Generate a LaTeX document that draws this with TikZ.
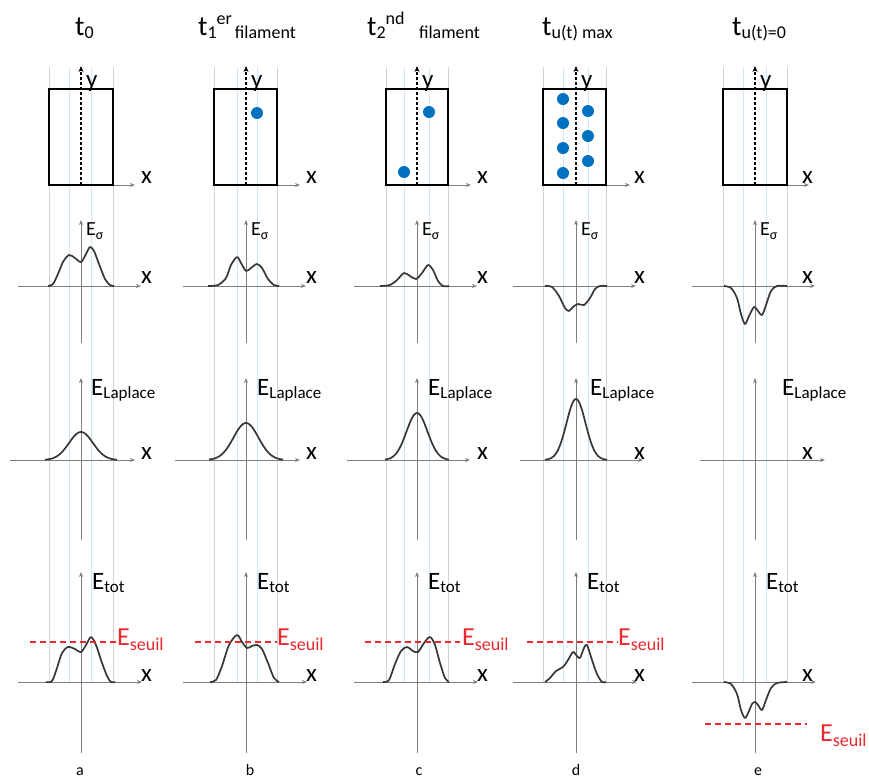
\documentclass[tikz,border=0pt]{standalone}
\usepackage{fontspec}
\setmainfont{Carlito}
\usetikzlibrary{arrows.meta}
\definecolor{guidegray}{RGB}{212,212,212}
\definecolor{guideblue}{RGB}{208,230,243}
\definecolor{axisgray}{RGB}{125,125,125}
\definecolor{curvegray}{RGB}{55,55,55}
\definecolor{dotblue}{RGB}{0,112,192}
\definecolor{seuilred}{RGB}{235,40,45}
\newcommand\lo[3][0.12em]{\raisebox{-#1}{\fontsize{#2}{#2}\selectfont #3}}
\newcommand\hi[2]{\raisebox{0.38em}{\fontsize{#1}{#1}\selectfont #2}}
\tikzset{
  guide/.style={guidegray, line width=0.8pt},
  guideb/.style={guideblue, line width=0.8pt},
  ax/.style={axisgray, line width=0.9pt, -{Stealth[length=5pt,width=4pt]}},
  yax/.style={black, line width=1.2pt, dash pattern=on 3pt off 2pt, -{Stealth[length=6pt,width=5pt]}},
  boxst/.style={black, line width=1.3pt},
  curve/.style={curvegray, line width=1.7pt, line join=round},
  seuil/.style={seuilred, line width=1.4pt, dash pattern=on 6pt off 4pt},
  dot/.style={fill=dotblue},
  txt/.style={inner sep=0pt, anchor=base west, font=\fontsize{25}{25}\selectfont},
  ttl/.style={inner sep=0pt, anchor=base west, font=\fontsize{28}{28}\selectfont},
  esig/.style={inner sep=0pt, anchor=base west, font=\fontsize{20}{20}\selectfont},
  eseuil/.style={inner sep=0pt, anchor=base west, text=seuilred, font=\fontsize{26}{26}\selectfont},
  sublab/.style={inner sep=0pt, anchor=base, font=\fontsize{16}{16}\selectfont},
}
% #1 axis, #2 L, #3 l1, #4 l2, #5 R, #6 row3 start, #7 row3 end, #8 name, #9 x label left
\newcommand\Col[9]{%
  \draw[guide] (#2,67) -- (#2,683);
  \draw[guide] (#5,67) -- (#5,683);
  \draw[guideb] (#3,67) -- (#3,683);
  \draw[guideb] (#4,67) -- (#4,683);
  \draw[ax] (#2,185) -- ({#1+54},185);
  \draw[boxst] (#2,89) rectangle (#5,185);
  \draw[yax] (#1,185) -- (#1,66);
  \draw[ax] ({#1-63},286) -- ({#1+60},286);
  \draw[ax] (#1,343) -- (#1,220);
  \draw[ax] (#6,460) -- (#7,460);
  \draw[ax] (#1,540) -- (#1,378);
  \draw[ax] ({#1-63},682) -- ({#1+61},682);
  \draw[ax] (#1,753) -- (#1,572);
  \node[txt] (y#8) at ({#1+5},87) {y};
  \node[txt] (xa#8) at (#9,183) {x};
  \node[txt] (xb#8) at (#9,283) {x};
  \node[txt] (xc#8) at (#9,459) {x};
  \node[txt] (xd#8) at (#9,681) {x};
  \node[esig] (es#8) at ({#1+5},235) {E\lo[0.2em]{14}{σ}};
  \node[txt] (et#8) at ({#1+11},589) {E\lo{17}{tot}};
}
\begin{document}
\begin{tikzpicture}[x=1pt,y=-1pt]
\useasboundingbox (0,0) rectangle (869,780);

% columns
\Col{81}{49}{69}{91}{113}{10}{135}{a}{141}
\Col{246}{214}{237}{257}{277}{175}{300}{b}{306}
\Col{417}{386}{404}{429}{448}{347}{470}{c}{477}
\Col{576}{543}{563}{588}{606}{520}{643}{d}{634}
\Col{755}{723}{743}{766}{787}{700}{825}{e}{802}

% titles
\node[ttl] (ta) at (75,35) {t\lo{18}{0}};
\node[ttl] (tb) at (198,35) {t\lo{18}{1}\hi{18}{er}\lo{18}{\,filament}};
\node[ttl] (tc) at (367,35) {t\lo{18}{2}\hi{18}{nd}\lo{18}{\hspace{0.8em}filament}};
\node[ttl] (td) at (542,35) {t\lo{18}{u(t) max}};
\node[ttl] (te) at (732,35) {t\lo{18}{u(t)=0}};

% E_Laplace labels
\node[txt] (ela) at (91,395) {E\lo{17}{Laplace}};
\node[txt] (elb) at (257,395) {E\lo{17}{Laplace}};
\node[txt] (elc) at (428,395) {E\lo{17}{Laplace}};
\node[txt] (eld) at (590,395) {E\lo{17}{Laplace}};
\node[txt] (ele) at (782,395) {E\lo{17}{Laplace}};

% blue dots
\fill[dot] (257,113) circle (6);
\fill[dot] (429,112) circle (6);
\fill[dot] (404,172) circle (6);
\foreach \yy in {99,123,148,173} \fill[dot] (563,\yy) circle (6);
\foreach \yy in {111,136,161} \fill[dot] (588,\yy) circle (6);

% E_sigma curves
\draw[curve] plot[smooth] coordinates {(48,286) (53,284) (58,274) (63,262) (69,255) (75,258) (81,262) (86,254) (90,247) (94,251) (99,264) (105,279) (110,285) (114,286)};
\draw[curve] plot[smooth] coordinates {(208,286) (218,285) (226,278) (231,265) (237,257) (241,263) (246,271) (251,268) (257,264) (262,268) (268,279) (274,285) (279,286)};
\draw[curve] plot[smooth] coordinates {(380,286) (390,285) (397,280) (404,273) (410,276) (416,279) (422,273) (428,265) (433,270) (438,281) (443,286) (449,286)};
\draw[curve] plot[smooth] coordinates {(545,286) (552,287) (559,296) (565,308) (569,311) (573,307) (578,304) (584,305) (590,298) (595,289) (600,286) (607,286)};
\draw[curve] plot[smooth] coordinates {(724,286) (731,288) (737,298) (741,314) (745,324) (749,316) (754,307) (758,311) (762,315) (766,305) (771,291) (777,286) (787,286)};

% E_Laplace curves
\draw[curve] plot[domain=-36:36, samples=73, smooth] ({81+\x},{460-28*exp(-(\x*\x)/(2*144))});
\draw[curve] plot[domain=-37:37, samples=75, smooth] ({246+\x},{460-37*exp(-(\x*\x)/(2*156))});
\draw[curve] plot[domain=-32:32, samples=65, smooth] ({417+\x},{460-47*exp(-(\x*\x)/(2*110))});
\draw[curve] plot[domain=-31:31, samples=63, smooth] ({576+\x},{460-61*exp(-(\x*\x)/(2*90))});

% E_tot curves
\draw[curve] plot[smooth] coordinates {(46,682) (52,681) (57,668) (62,653) (68,647) (75,649) (81,652) (86,645) (91,637) (96,645) (101,660) (107,676) (111,682) (115,682)};
\draw[curve] plot[smooth] coordinates {(210,682) (216,680) (222,666) (229,645) (237,635) (242,642) (247,648) (252,646) (257,645) (262,649) (268,663) (274,678) (279,682)};
\draw[curve] plot[smooth] coordinates {(383,682) (389,680) (395,664) (401,651) (407,647) (413,651) (418,652) (424,643) (430,637) (435,645) (440,663) (445,678) (449,682)};
\draw[curve] plot[smooth] coordinates {(545,682) (550,678) (556,671) (563,667) (568,660) (573,652) (577,656) (580,658) (584,648) (587,645) (592,660) (597,674) (602,682) (606,682)};
\draw[curve] plot[smooth] coordinates {(724,682) (731,684) (737,694) (741,710) (745,718) (749,711) (752,704) (755,702) (758,705) (762,710) (766,700) (771,688) (777,683) (787,682)};

% thresholds
\draw[seuil] (30,642) -- (117,642);
\draw[seuil] (195,642) -- (277,642);
\draw[seuil] (365,642) -- (460,642);
\draw[seuil] (527,642) -- (618,642);
\draw[seuil] (705,724) -- (807,724);
\node[eseuil] (sa) at (117,645) {E\lo[0.2em]{18}{seuil}};
\node[eseuil] (sb) at (277,645) {E\lo[0.2em]{18}{seuil}};
\node[eseuil] (sc) at (462,645) {E\lo[0.2em]{18}{seuil}};
\node[eseuil] (sd) at (618,645) {E\lo[0.2em]{18}{seuil}};
\node[eseuil] (se) at (820,741) {E\lo[0.2em]{18}{seuil}};

% bottom letters
\node[sublab] (la) at (80,775) {a};
\node[sublab] (lb) at (250,775) {b};
\node[sublab] (lc) at (419,775) {c};
\node[sublab] (ld) at (576,775) {d};
\node[sublab] (le) at (758,775) {e};
\end{tikzpicture}
\end{document}
